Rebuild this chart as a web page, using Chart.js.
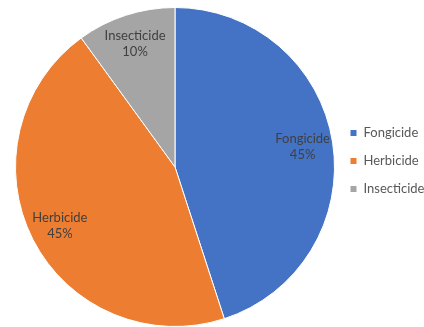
<!DOCTYPE html>
<html>
<head>
<meta charset="utf-8">
<script src="https://cdn.jsdelivr.net/npm/chart.js@4.4.1/dist/chart.umd.min.js"></script>
<style>
    html, body { margin: 0; padding: 0; background: #ffffff; }
    #wrap { width: 424px; height: 327px; }
</style>
</head>
<body>
<div id="wrap"><canvas id="pieChart" width="424" height="327"></canvas></div>
<script>
const categories = ['Fongicide', 'Herbicide', 'Insecticide'];
const shares = [45, 45, 10];
const sliceColors = ['#4472C4', '#ED7D31', '#A5A5A5'];

const fontFamily = 'Lato, "Open Sans", sans-serif';

// labels inside each slice: name + percentage, placed along the slice's middle angle
const sliceLabels = {
    id: 'sliceLabels',
    afterDatasetsDraw(chart) {
        const ctx = chart.ctx;
        const meta = chart.getDatasetMeta(0);
        const total = shares.reduce((a, b) => a + b, 0);
        ctx.save();
        ctx.font = '13px ' + fontFamily;
        ctx.fillStyle = '#404040';
        ctx.textAlign = 'center';
        ctx.textBaseline = 'middle';
        meta.data.forEach((arc, i) => {
            const p = arc.getProps(['x', 'y', 'startAngle', 'endAngle', 'outerRadius'], true);
            const mid = (p.startAngle + p.endAngle) / 2;
            const r = p.outerRadius * 0.81;
            const x = p.x + Math.cos(mid) * r;
            const y = p.y + Math.sin(mid) * r;
            const pct = Math.round(shares[i] / total * 100) + '%';
            ctx.fillText(categories[i], x, y - 8);
            ctx.fillText(pct, x, y + 8);
        });
        ctx.restore();
    }
};

// the legend column sits a little above the pie's centre line
const legendNudge = {
    id: 'legendNudge',
    afterLayout(chart) {
        chart.legend.top -= 6;
        chart.legend.bottom -= 6;
    }
};

new Chart(document.getElementById('pieChart').getContext('2d'), {
    type: 'pie',
    data: {
        labels: categories,
        datasets: [{
            data: shares,
            backgroundColor: sliceColors,
            borderColor: '#ffffff',
            borderWidth: 1,
            hoverOffset: 0
        }]
    },
    options: {
        responsive: false,
        animation: false,
        layout: {
            padding: { left: 15, right: 0, top: 7, bottom: 0 }
        },
        plugins: {
            tooltip: { enabled: false },
            legend: {
                position: 'right',
                align: 'center',
                maxWidth: 89,
                labels: {
                    boxWidth: 7,
                    boxHeight: 7,
                    padding: 15,
                    color: '#595959',
                    font: { family: fontFamily, size: 13 }
                }
            }
        }
    },
    plugins: [sliceLabels, legendNudge]
});
</script>
</body>
</html>
